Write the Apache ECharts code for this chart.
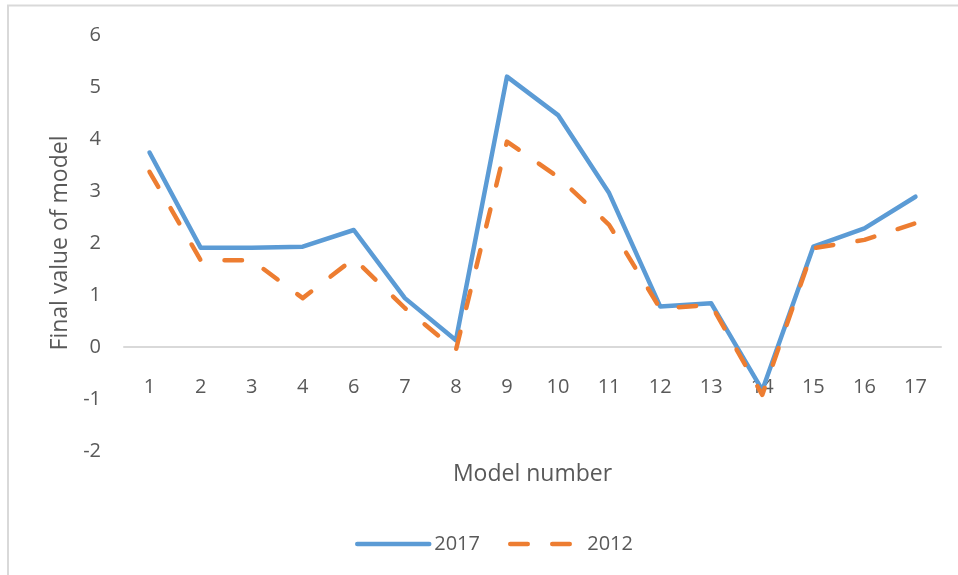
<!DOCTYPE html>
<html>
<head>
<meta charset="utf-8">
<script src="https://cdn.jsdelivr.net/npm/echarts@6/dist/echarts.min.js"></script>
<style>
  html, body { margin: 0; padding: 0; background: #ffffff; }
  #chart { width: 958px; height: 575px; }
</style>
</head>
<body>
<div id="chart"></div>
<script>
const categories = ['1', '2', '3', '4', '6', '7', '8', '9', '10', '11', '12', '13', '14', '15', '16', '17'];
const values2017 = [3.74, 1.91, 1.91, 1.93, 2.25, 0.94, 0.13, 5.2, 4.46, 2.96, 0.78, 0.84, -0.83, 1.93, 2.28, 2.89];
const values2012 = [3.37, 1.67, 1.67, 0.94, 1.7, 0.75, -0.06, 3.95, 3.27, 2.35, 0.74, 0.81, -0.92, 1.9, 2.06, 2.38];
const seriesNames = ['2017', '2012'];
const xAxisTitle = 'Model number';
const yAxisTitle = 'Final value of model';

const FONT = 'Open Sans';
const TEXT = '#595959';

const chart = echarts.init(document.getElementById('chart'), null, { renderer: 'canvas' });
chart.setOption({
  animation: false,
  backgroundColor: '#ffffff',
  textStyle: { fontFamily: FONT },
  graphic: [{
    type: 'rect',
    shape: { x: 8, y: 5.5, width: 1200, height: 1200 },
    style: { fill: 'none', stroke: '#d9d9d9', lineWidth: 2 },
    silent: true
  }],
  grid: { left: 124, right: 17, top: 35, bottom: 124, containLabel: false, outerBoundsMode: 'none' },
  legend: {
    left: 355,
    top: 534,
    padding: 0,
    itemWidth: 72,
    itemHeight: 24,
    itemGap: 28,
    itemStyle: { opacity: 0 },
    lineStyle: { width: 4.5, cap: 'round' },
    textStyle: { fontFamily: FONT, fontSize: 20, color: TEXT },
    data: seriesNames
  },
  xAxis: {
    type: 'category',
    data: categories,
    boundaryGap: true,
    name: xAxisTitle,
    nameLocation: 'middle',
    nameGap: 12,
    nameTextStyle: { fontFamily: FONT, fontSize: 23, color: TEXT },
    axisLine: { onZero: true, lineStyle: { color: '#d9d9d9', width: 2 } },
    axisTick: { show: false },
    axisLabel: { fontFamily: FONT, fontSize: 20, color: TEXT, margin: -74, interval: 0 },
    splitLine: { show: false }
  },
  yAxis: {
    type: 'value',
    min: -2,
    max: 6,
    interval: 1,
    name: yAxisTitle,
    nameLocation: 'middle',
    nameRotate: 90,
    nameGap: 42,
    nameTextStyle: { fontFamily: FONT, fontSize: 23, color: TEXT },
    axisLine: { show: false },
    axisTick: { show: false },
    axisLabel: { fontFamily: FONT, fontSize: 20, color: TEXT, margin: 23 },
    splitLine: { show: false }
  },
  series: [
    {
      name: seriesNames[0],
      type: 'line',
      data: values2017,
      symbol: 'none',
      smooth: false,
      color: '#5b9bd5',
      lineStyle: { color: '#5b9bd5', width: 4.5, cap: 'round', join: 'round' },
      z: 2
    },
    {
      name: seriesNames[1],
      type: 'line',
      data: values2012,
      symbol: 'none',
      smooth: false,
      color: '#ed7d31',
      lineStyle: { color: '#ed7d31', width: 4.5, type: [17.5, 24.5], cap: 'round', join: 'round' },
      z: 3
    }
  ]
});
</script>
</body>
</html>
